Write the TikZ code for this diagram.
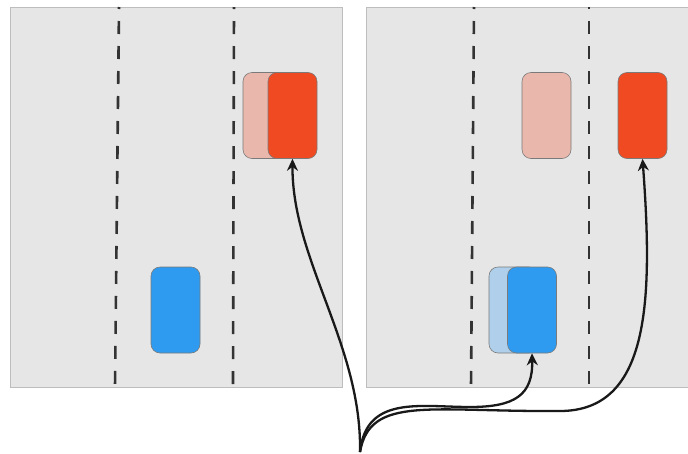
\documentclass[tikz,border=0pt]{standalone}
\usetikzlibrary{arrows.meta}
\definecolor{road}{HTML}{E6E6E6}
\definecolor{roadedge}{HTML}{BDBDBD}
\definecolor{carred}{HTML}{F04A23}
\definecolor{ghostred}{HTML}{EAB7AC}
\definecolor{carblue}{HTML}{2E9BF0}
\definecolor{ghostblue}{HTML}{AFCFEA}
\definecolor{caredge}{HTML}{7A7A7A}
\tikzset{
  panel/.style={fill=road, draw=roadedge, line width=1pt},
  lane/.style={draw=black!80, line width=2.6pt, dash pattern=on 13pt off 12pt, dash phase=11pt},
  car/.style={draw=caredge, line width=0.6pt, rounded corners=9pt, minimum width=49pt, minimum height=86pt, inner sep=0pt},
  redcar/.style={car, fill=carred},
  redghost/.style={car, fill=ghostred},
  bluecar/.style={car, fill=carblue},
  blueghost/.style={car, fill=ghostblue},
  link/.style={draw=black!90, line width=2.3pt, -{Stealth[length=12pt, width=11pt]}}
}
\begin{document}
\begin{tikzpicture}[x=1pt, y=-1pt]
  \useasboundingbox (0,0) rectangle (688,453);
  % two road panels
  \path[panel] (10,7) rectangle (342,387);
  \path[panel] (366,7) rectangle (690,387);
  % lane markings
  \draw[lane] (119,7) -- (115,387);
  \draw[lane] (234,7) -- (233,387);
  \draw[lane] (474,7) -- (471,387);
  \draw[lane] (589,7) -- (589,387);
  % left panel cars
  \node[redghost] (redOld) at (267.5,115.5) {};
  \node[redcar] (redA) at (292.5,115.5) {};
  \node[bluecar] (blueA) at (175.5,310) {};
  % right panel cars
  \node[redghost] (redGhostB) at (546.5,115.5) {};
  \node[redcar] (redB) at (642.5,115.5) {};
  \node[blueghost] (blueOld) at (513.5,310) {};
  \node[bluecar] (blueB) at (532,310) {};
  % common origin of the links
  \coordinate (src) at (360,452);
  \coordinate (mid) at (560,411);
  \draw[link] (src) .. controls (362,345) and (292,260) .. (redA.south);
  \draw[link] (src) .. controls (366,395) and (420,407) .. (470,407)
                    .. controls (515,407) and (533,395) .. (blueB.south);
  \draw[link] (src) .. controls (370,395) and (430,412) .. (mid)
                    .. controls (650,411) and (653,300) .. (redB.south);
\end{tikzpicture}
\end{document}
